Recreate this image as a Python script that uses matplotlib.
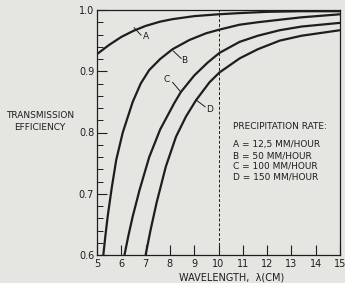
import matplotlib
matplotlib.use("Agg")
import matplotlib.pyplot as plt
from matplotlib.ticker import MultipleLocator

plt.rcParams['font.family'] = ['DejaVu Sans']

# Data
a_x = [5.0, 5.5, 6.0, 6.5, 7.0, 7.6, 8.1, 9.0, 10.0, 10.9, 12.0, 13.4, 15.0]
a_y = [0.928, 0.943, 0.956, 0.966, 0.974, 0.981, 0.985, 0.990, 0.993, 0.995, 0.997, 0.998, 0.998]

b_x = [5.26, 5.35, 5.44, 5.60, 5.79, 6.06, 6.47, 6.80, 7.15, 7.60, 8.11, 8.80, 9.49,
       10.04, 10.87, 11.62, 12.5, 13.4, 15.0]
b_y = [0.600, 0.633, 0.663, 0.708, 0.755, 0.800, 0.850, 0.880, 0.902, 0.920, 0.936, 0.951, 0.962,
       0.968, 0.976, 0.980, 0.984, 0.988, 0.993]

c_x = [6.13, 6.30, 6.47, 6.75, 7.15, 7.60, 8.18, 8.45, 9.0, 9.55, 10.04, 10.87, 11.62,
       12.52, 13.42, 15.0]
c_y = [0.600, 0.633, 0.663, 0.706, 0.760, 0.805, 0.848, 0.866, 0.893, 0.914, 0.930, 0.948, 0.958,
       0.967, 0.973, 0.979]

d_x = [7.0, 7.2, 7.45, 7.83, 8.25, 8.66, 9.08, 9.63, 10.04, 10.87, 11.62, 12.52, 13.42, 15.0]
d_y = [0.600, 0.640, 0.685, 0.744, 0.793, 0.826, 0.853, 0.882, 0.898, 0.921, 0.936, 0.950, 0.958, 0.967]

legend_title = "PRECIPITATION RATE:"
legend_lines = ["A = 12,5 MM/HOUR", "B = 50 MM/HOUR", "C = 100 MM/HOUR", "D = 150 MM/HOUR"]
x_ticks = list(range(5, 16))
y_ticks = [0.6, 0.7, 0.8, 0.9, 1.0]
y_tick_labels = ["0.6", "0.7", "0.8", "0.9", "1.0"]

bg = '#e5e5e2'
ink = '#1e1e1e'
fs = 6.5

fig = plt.figure(figsize=(3.45, 2.83), dpi=100, facecolor=bg)
ax = fig.add_axes([97/345, 28/283, 243/345, 245/283])
ax.set_facecolor(bg)

for xs, ys in [(a_x, a_y), (b_x, b_y), (c_x, c_y), (d_x, d_y)]:
    ax.plot(xs, ys, color=ink, lw=1.6, solid_capstyle='butt', solid_joinstyle='round')

ax.axvline(10, color=ink, lw=0.7, ls=(0, (3, 2)))

ax.set_xlim(5, 15)
ax.set_ylim(0.6, 1.0)
ax.set_xticks(x_ticks)
ax.set_xticklabels([str(t) for t in x_ticks])
ax.set_yticks(y_ticks)
ax.set_yticklabels(y_tick_labels)
ax.yaxis.set_minor_locator(MultipleLocator(0.02))
ax.tick_params(axis='both', which='major', direction='in', length=7, width=0.8,
               color=ink, labelsize=7, labelcolor=ink, pad=2)
ax.tick_params(axis='y', which='minor', direction='in', length=4, width=0.7, color=ink)
ax.tick_params(axis='x', which='major', pad=3)
for s in ax.spines.values():
    s.set_color(ink)
    s.set_linewidth(0.9)

# curve labels with leader lines
labels = [("A", (6.53, 0.971), (6.81, 0.959), (7.01, 0.956)),
          ("B", (8.14, 0.933), (8.46, 0.921), (8.60, 0.917)),
          ("C", (8.45, 0.866), (8.11, 0.882), (7.88, 0.886)),
          ("D", (9.08, 0.853), (9.45, 0.842), (9.63, 0.838))]
for name, p0, p1, pt in labels:
    ax.plot([p0[0], p1[0]], [p0[1], p1[1]], color=ink, lw=0.7)
    ax.text(pt[0], pt[1], name, fontsize=fs, color=ink, ha='center', va='center')

ax.text(10.59, 0.809, legend_title, fontsize=fs, color=ink, ha='left', va='center')
for i, line in enumerate(legend_lines):
    ax.text(10.59, [0.780, 0.762, 0.746, 0.728][i], line, fontsize=fs, color=ink,
            ha='left', va='center')

fig.text(40/345, 1 - 121.5/283, "TRANSMISSION\nEFFICIENCY", fontsize=fs, color=ink,
         ha='center', va='center', multialignment='center', linespacing=1.35)
fig.text(232/345, 1 - 277/283, "WAVELENGTH,  λ(CM)", fontsize=7, color=ink,
         ha='center', va='center')

fig.savefig('out.png', dpi=100, facecolor=bg)
